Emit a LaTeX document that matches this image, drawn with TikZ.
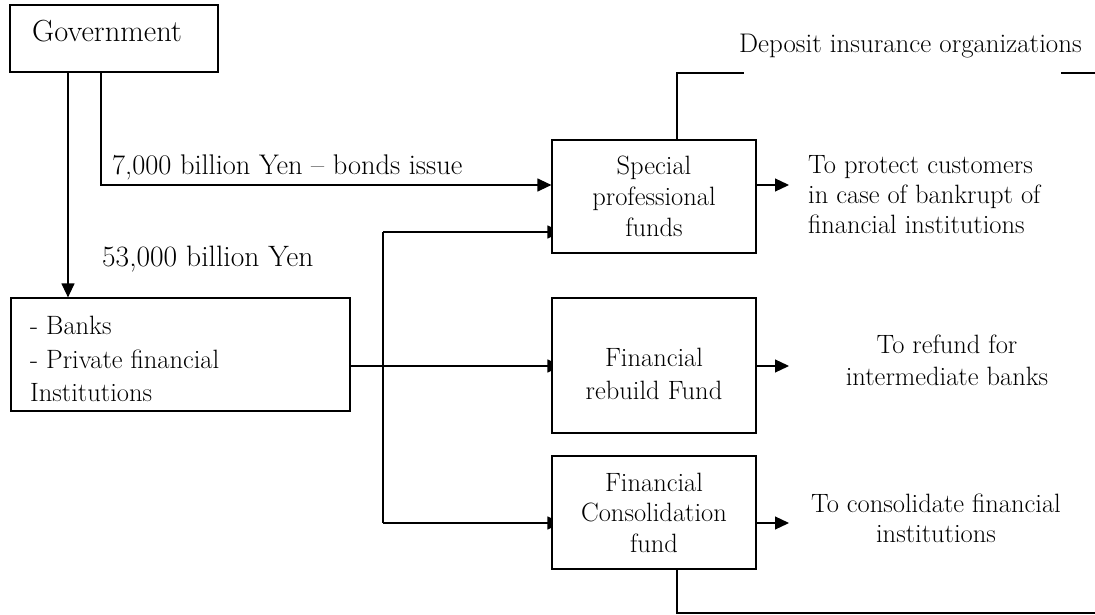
\documentclass[tikz,border=0pt]{standalone}
\usetikzlibrary{arrows.meta,backgrounds}
\begin{document}
\begin{tikzpicture}[x=1pt,y=-1pt,
  box/.style={draw,line width=1.2pt,fill=white,inner sep=0pt},
  conn/.style={line width=1.2pt},
  arr/.style={conn,-{Triangle[length=14pt,width=13pt]}},
  harr/.style={conn,-{Triangle[length=14pt,width=13pt]},shorten >=-10pt},
  txt/.style={inner sep=0pt,font=\fontsize{26.5pt}{30pt}\selectfont},
]
\useasboundingbox (0,0) rectangle (1095,615);

% boxes
\node[box,minimum width=208pt,minimum height=67pt] (gov) at (114,38.5) {};
\node[box,minimum width=339pt,minimum height=113pt] (banks) at (180.5,354.5) {};
\node[box,minimum width=204pt,minimum height=113pt,align=center,
      font=\fontsize{26.5pt}{31pt}\selectfont] (sp) at (654,196.5) {Special\\professional\\funds};
\node[box,minimum width=204pt,minimum height=135pt] (rb) at (654,365.5) {};
\node[box,minimum width=204pt,minimum height=113pt,align=center,
      font=\fontsize{26.5pt}{30.5pt}\selectfont] (cf) at (654,512.5) {Financial\\Consolidation\\fund};

% box texts
\node[txt,anchor=base west,font=\fontsize{30.5pt}{32pt}\selectfont] (govt) at (32,42) {Government};
\node[txt,anchor=west,align=left,font=\fontsize{26.5pt}{33.5pt}\selectfont] (bankst) at (30,359)
  {- Banks\\- Private financial\\Institutions};
\node[txt,align=center,font=\fontsize{26.5pt}{33pt}\selectfont] (rbt) at (654,374) {Financial\\rebuild Fund};

% right texts
\node[txt,anchor=west,align=left] (t1) at (808,194.5)
  {To protect customers\\in case of bankrupt of\\financial institutions};
\node[txt,align=center,font=\fontsize{26.5pt}{32pt}\selectfont] (t2) at (947,360.5)
  {To refund for\\intermediate banks};
\node[txt,align=center] (t3) at (936,518.5) {To consolidate financial\\institutions};
\node[txt,anchor=base west,font=\fontsize{26.9pt}{30pt}\selectfont] (dep) at (739,53) {Deposit insurance organizations};

% labels
\node[txt,anchor=base west,font=\fontsize{28.4pt}{30pt}\selectfont] (l1) at (112,175) {7,000 billion Yen – bonds issue};
\node[txt,anchor=base west,font=\fontsize{29.5pt}{30pt}\selectfont] (l2) at (102,266) {53,000 billion Yen};

% helper coordinates
\coordinate (g1) at (68,0);
\coordinate (g2) at (101,0);
\coordinate (v1) at (383,0);
\coordinate (dx) at (677,0);
\coordinate (h1) at (0,185);
\coordinate (h2) at (0,232);
\coordinate (h3) at (0,366);
\coordinate (h4) at (0,523);
\coordinate (p1) at (789,185);
\coordinate (p2) at (789,366);
\coordinate (p3) at (789,523);
\coordinate (d1) at (744,73);
\coordinate (d2) at (1061,73);
\coordinate (d3) at (1096,73);
\coordinate (b1) at (1096,613);

\begin{scope}[on background layer]
\draw[arr] (gov.south -| g1) -- (banks.north -| g1);
\draw[arr] (gov.south -| g2) |- (sp.west |- h1);
\draw[harr] (banks.east |- h3) -- (rb.west |- h3);
\draw[conn] (v1 |- h2) -- (v1 |- h4);
\draw[harr] (v1 |- h2) -- (sp.west |- h2);
\draw[harr] (v1 |- h4) -- (cf.west |- h4);
\draw[arr] (sp.east |- h1) -- (p1);
\draw[arr] (rb.east |- h3) -- (p2);
\draw[arr] (cf.east |- h4) -- (p3);
\draw[conn] (sp.north -| dx) |- (d1);
\draw[conn] (d2) -- (d3);
\draw[conn] (cf.south -| dx) |- (b1);
\end{scope}
\end{tikzpicture}
\end{document}
